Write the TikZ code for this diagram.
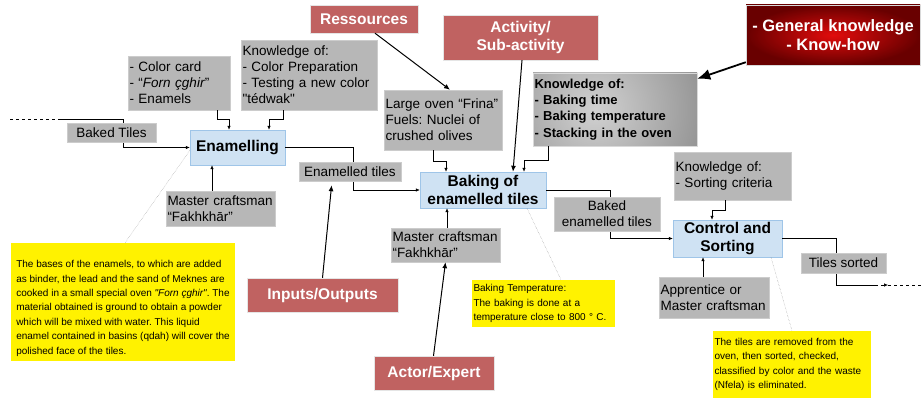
\documentclass[tikz,border=0pt]{standalone}
\usepackage{fontspec}
\setmainfont{Liberation Sans}
\usepackage{tikz}
\usetikzlibrary{shapes,arrows.meta,positioning,calc}
\usepackage{xcolor}
\definecolor{boxgray}{RGB}{183,183,183}
\definecolor{taskfill}{RGB}{207,226,243}
\definecolor{taskline}{RGB}{159,197,232}
\definecolor{legendred}{RGB}{192,98,97}
\definecolor{genin}{RGB}{225,12,12}
\definecolor{genout}{RGB}{105,0,0}
\frenchspacing

\begin{document}
\begin{tikzpicture}[x=1pt, y=-1pt,
    gbox/.style={rectangle, draw=black!20, fill=boxgray, inner sep=1.5pt, align=center, font=\fontsize{13.5}{16}\selectfont},
    task/.style={rectangle, draw=taskline, fill=taskfill, inner sep=1pt, align=center, font=\bfseries\fontsize{15.5}{18}\selectfont},
    legend/.style={rectangle, draw=black!10, fill=legendred, text=white, align=center, font=\bfseries\fontsize{15.5}{18}\selectfont},
    note/.style={rectangle, fill=yellow, inner sep=1.5pt, align=left, font=\fontsize{10}{14.4}\selectfont},
    flow/.style={-{Latex[length=4pt,width=3.5pt]}, line width=0.6pt},
    link/.style={-{Latex[length=6pt,width=5pt]}, line width=1pt},
    hint/.style={densely dotted, black!45, line width=0.4pt},
]
    \useasboundingbox (0,0) rectangle (921,398);

    \node[legend, minimum width=108, minimum height=28] (res) at (364,19) {Ressources};
    \node[legend, minimum width=155, minimum height=45] (act) at (520.5,37.5) {Activity/\\Sub-activity};
    \node[legend, minimum width=151, minimum height=34] (io) at (322.5,295) {Inputs/Outputs};
    \node[legend, minimum width=120, minimum height=34] (actor) at (434,373) {Actor/Expert};

    \node[rectangle, draw=black!15, shading=radial, inner color=genin, outer color=genout,
        text=white, align=center, font=\bfseries\fontsize{16.5}{19}\selectfont,
        minimum width=174, minimum height=60] (gen) at (833,35) {- General knowledge\\- Know-how};
    \node[rectangle, draw=black!15, fill=black!55, align=left, inner sep=1.5pt, text width=161, minimum height=73,
        path picture={\shade[inner color=black!18, outer color=black!55]
            ([xshift=-20pt]path picture bounding box.center) circle (170pt);},
        font=\bfseries\fontsize{13}{16.3}\selectfont] (knbake) at (615,109.5) {
        Knowledge of:\\
        - Baking time\\
        - Baking temperature\\
        - Stacking in the oven
    };

    \node[gbox, align=left, text width=99, minimum height=54] (supply) at (179,83) {
        - Color card\\
        - “\textit{Forn çghir}”\\
        - Enamels
    };
    \node[gbox, align=left, text width=133, minimum height=70] (knenam) at (309,75) {
        Knowledge of:\\
        - Color Preparation\\
        - Testing a new color\\
        \textquotedbl tédwak\textquotedbl
    };
    \node[gbox, align=left, text width=106, minimum height=35] (mc1) at (220.5,208.5) {
        Master craftsman\\
        “Fakhkhār”
    };
    \node[gbox, align=left, text width=115, minimum height=60] (oven) at (443,120) {
        Large oven “Frina”\\
        Fuels: Nuclei of\\
        crushed olives
    };
    \node[gbox, align=left, text width=106, minimum height=34] (mc2) at (445.5,245) {
        Master craftsman\\
        “Fakhkhār”
    };
    \node[gbox, align=left, text width=114, minimum height=48] (knsort) at (732.5,176) {
        Knowledge of:\\
        - Sorting criteria
    };
    \node[gbox, align=left, text width=107, minimum height=41] (appr) at (714,297.5) {
        Apprentice or\\
        Master craftsman
    };

    \node[task, minimum width=95, minimum height=35] (enam) at (237.5,147.5) {Enamelling};
    \node[task, minimum width=126, minimum height=36] (bake) at (483,190) {Baking of\\enamelled tiles};
    \node[task, minimum width=109, minimum height=37] (ctrl) at (727.5,238.5) {Control and\\Sorting};

    \node[note, minimum width=224, minimum height=118] (note1) at (123,302) {
        \rule{0pt}{20pt}The bases of the enamels, to which are added\\
        as binder, the lead and the sand of Meknes are\\
        cooked in a small special oven \textit{\textquotedbl Forn çghir\textquotedbl}. The\\
        material obtained is ground to obtain a powder\\
        which will be mixed with water. This liquid\\
        enamel contained in basins (qdah) will cover the\\
        polished face of the tiles.
    };
    \node[note, text width=140, minimum height=47] (note2) at (543.5,303.5) {
        Baking Temperature:\\
        The baking is done at a\\
        temperature close to 800 ° C.
    };
    \node[note, text width=155, minimum height=67] (note3) at (792,364.5) {
        The tiles are removed from the\\
        oven, then sorted, checked,\\
        classified by color and the waste\\
        (Nfela) is eliminated.
    };

    \coordinate (inA) at (10,119);
    \coordinate (inB) at (60,119);
    \coordinate (outA) at (875,285);
    \coordinate (outB) at (888,285);
    \coordinate (outC) at (921,285);

    \draw[dashed, line width=0.6pt] (inA) -- (inB);
    \draw[flow] (inB) -| ([xshift=-67pt]enam.west) -- (enam.west);
    \draw[flow] ([xshift=38pt]supply.south) -- ++(0,9) -| ([xshift=-8.5pt]enam.north);
    \draw[flow] ([xshift=-26pt]knenam.south) -- ++(0,9) -| ([xshift=31.5pt]enam.north);
    \draw[flow] ([xshift=-8.5pt]mc1.north) -- ([xshift=-25.5pt]enam.south);
    \draw[flow] (enam.east) -| ([xshift=-67pt]bake.west) -- (bake.west);
    \draw[flow] ([xshift=-10pt]oven.south) -- ++(0,11) -| ([xshift=-37pt]bake.north);
    \draw[flow] ([xshift=-67pt]knbake.south) -- ++(0,14) -| ([xshift=41pt]bake.north);
    \draw[flow] ([xshift=1.5pt]mc2.north) -- ([xshift=-36pt]bake.south);
    \draw[flow] (bake.east) -| ([xshift=-63pt]ctrl.west) -- (ctrl.west);
    \draw[flow] ([xshift=-7.5pt]knsort.south) -- ++(0,10) -| ([xshift=-15.5pt]ctrl.north);
    \draw[flow] ([xshift=-11pt]appr.north) -- ([xshift=-24.5pt]ctrl.south);
    \draw[line width=0.6pt] (ctrl.east) -| ([xshift=-39pt]outA) -- (outA);
    \draw[flow, dashed] (outA) -- (outB);
    \draw[dashed, line width=0.6pt] (outB) -- (outC);

    \node[gbox, minimum width=89, minimum height=19] (baked) at (111.5,132.5) {Baked Tiles};
    \node[gbox, minimum width=102, minimum height=19] (enamt) at (350,171.5) {Enamelled tiles};
    \node[gbox, minimum width=106, minimum height=34] (bakedenam) at (607,214) {Baked\\enamelled tiles};
    \node[gbox, minimum width=85, minimum height=20] (sorted) at (843.5,263) {Tiles sorted};

    \draw[link] ([xshift=11pt]res.south) -- ([xshift=7pt]oven.north);
    \draw[link] ([xshift=1.5pt]act.south) -- ([xshift=30pt]bake.north);
    \draw[link, shorten >=4pt] (io.north) -- ([xshift=-18pt]enamt.south);
    \draw[link] ([xshift=-0.5pt]actor.north) -- (mc2.south);
    \draw[-{Latex[length=13pt,width=11pt]}, line width=1.8pt] ([yshift=3pt]gen.south west) -- ([yshift=-6pt]knbake.north east);

    \draw[hint] ([yshift=-3pt]enam.west) -- ([xshift=2pt]note1.north);
    \draw[hint] ([xshift=44pt]bake.south) -- ([xshift=17.5pt]note2.north);
    \draw[hint] ([xshift=43.5pt]ctrl.south) -- (note3.north);
\end{tikzpicture}
\end{document}
